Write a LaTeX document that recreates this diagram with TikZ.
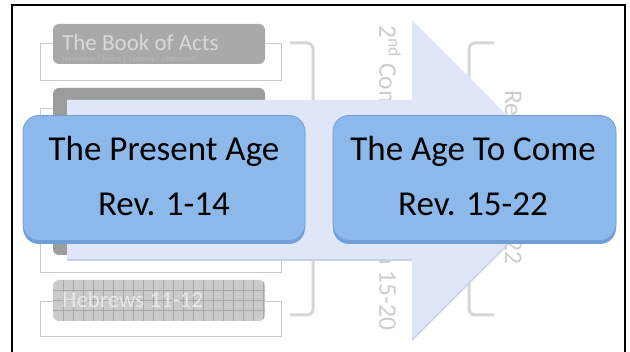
\documentclass[tikz,border=0pt]{standalone}
\usepackage{fontspec}
\setmainfont{Carlito}
\definecolor{frameblk}{HTML}{000000}
\definecolor{outl}{HTML}{CACACA}
\definecolor{brk}{HTML}{D6D6D6}
\definecolor{gboxa}{HTML}{A9A9A9}
\definecolor{gboxb}{HTML}{9C9C9C}
\definecolor{gboxc}{HTML}{CBCBCB}
\definecolor{gridc}{HTML}{A6A6A6}
\definecolor{gtext}{HTML}{D9D9D9}
\definecolor{vtext}{HTML}{CDCDCD}
\definecolor{arrowc}{HTML}{DFE6F8}
\definecolor{arrowe}{HTML}{C9D2EA}
\definecolor{bluef}{HTML}{8CB9E9}
\definecolor{blued}{HTML}{6F9FD6}
\tikzset{
  outline/.style={draw=outl, line width=0.7pt},
  graybox/.style={rounded corners=6pt},
  bracket/.style={draw=brk, line width=3pt, rounded corners=6pt},
  vlabel/.style={text=vtext, font=\fontsize{25.5}{27}\selectfont, rotate=-90, anchor=west, inner sep=0pt},
  glabel/.style={text=gtext, font=\fontsize{23}{25}\selectfont, anchor=west, inner sep=0pt},
  bluebox/.style={fill=bluef, draw=blued, line width=0.8pt, rounded corners=16pt},
  bluetext/.style={font=\fontsize{35}{38}\selectfont, anchor=base, inner sep=0pt},
}
\begin{document}
\begin{tikzpicture}[x=1pt,y=-1pt]
\useasboundingbox (0,0) rectangle (630,352);
\fill[white] (0,0) rectangle (630,352);
% frame
\draw[frameblk, line width=2pt] (12,353) -- (12,5) -- (625,5) -- (625,353);
% outlines behind gray boxes
\draw[outline] (40,43) rectangle (281,80);
\draw[outline] (40,108) rectangle (281,272);
\draw[outline] (40,301) rectangle (281,336);
% gray boxes
\fill[gboxa, graybox] (53,24) rectangle (265,64);
\fill[gboxb, graybox] (53,88) rectangle (265,255);
\begin{scope}
  \fill[gboxc, graybox] (53,280) rectangle (265,321);
  \clip[graybox] (53,280) rectangle (265,321);
  \foreach \gx in {63,73,...,263} \draw[gridc, line width=0.5pt] (\gx,280) -- (\gx,321);
  \foreach \gy in {290,300,310} \draw[gridc, line width=0.5pt] (53,\gy) -- (265,\gy);
\end{scope}
\node[glabel] (acts) at (62,43) {The Book of Acts};
\node[text=gboxa!80!white, font=\fontsize{8}{9}\selectfont, anchor=west, inner sep=0pt] (actsub) at (62,59) {Jerusalem | Judea | Samaria | Uttermost};
\node[glabel, text=gtext!60!white] (heb) at (62,300) {Hebrews 11-12};
% brackets
\draw[bracket] (290,43) -- (313,43) -- (313,315) -- (290,315);
\draw[bracket] (494,43) -- (469,43) -- (469,315) -- (494,315);
% vertical texts
\node[vlabel] (second) at (388,25) {2\textsuperscript{nd} Coming: Revelation 15-20};
\node[vlabel] (rev) at (514,90) {Revelation 21-22};
% big arrow
\fill[arrowe] (67,102) -- (412,102) -- (412,22) -- (572,181) -- (412,341) -- (412,261) -- (67,261) -- cycle;
\fill[arrowc] (67,100) -- (412,100) -- (412,20) -- (571,179.5) -- (412,339) -- (412,259) -- (67,259) -- cycle;
% blue boxes
\fill[blued, rounded corners=16pt] (23,118) rectangle (305,244);
\node[bluebox, minimum width=282pt, minimum height=125pt, inner sep=0pt] (present) at (164,178) {};
\fill[blued, rounded corners=16pt] (333,118) rectangle (616,244);
\node[bluebox, minimum width=283pt, minimum height=125pt, inner sep=0pt] (come) at (474.5,178) {};
\node[bluetext] (t1) at (164,161) {The Present Age};
\node[bluetext] (t2) at (164,216) {Rev. 1-14};
\node[bluetext] (t3) at (473,161) {The Age To Come};
\node[bluetext] (t4) at (473,216) {Rev. 15-22};
\end{tikzpicture}
\end{document}
